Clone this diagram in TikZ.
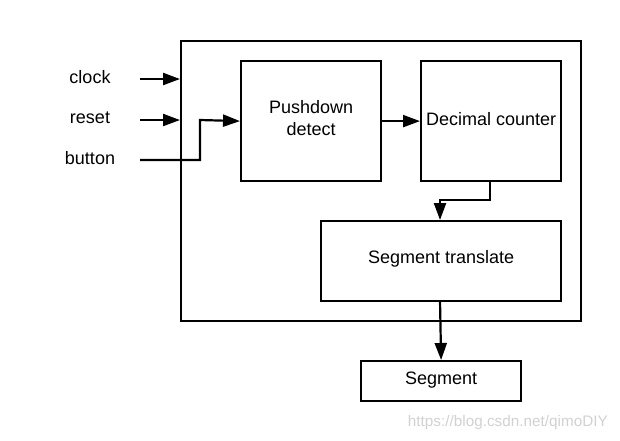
\documentclass[tikz,border=0pt]{standalone}
\usepackage{fontspec}
\setmainfont{Liberation Sans}
\usetikzlibrary{arrows.meta}
\begin{document}
\begin{tikzpicture}[x=1pt,y=-1pt,
  blk/.style={draw,line width=2.2pt,inner sep=0pt,anchor=north west},
  lbl/.style={font=\fontsize{18}{22}\selectfont,inner sep=0pt,align=center},
  tip/.style={-{Triangle[length=17pt,width=12pt]}},
  conn/.style={line width=2.2pt,tip},
  wire/.style={line width=2.2pt}]
\useasboundingbox (0,0) rectangle (620,440);
\node[blk,minimum width=400pt,minimum height=280pt] (outer) at (180,40) {};
\node[blk,minimum width=140pt,minimum height=120pt,
  label={[lbl,yshift=3pt]center:Pushdown\\detect}] (push) at (240,60) {};
\node[blk,minimum width=140pt,minimum height=120pt,
  label={[lbl,yshift=2.5pt]center:Decimal counter}] (dec) at (420,60) {};
\node[blk,minimum width=240pt,minimum height=80pt,
  label={[lbl,yshift=2pt]center:Segment translate}] (seg) at (320,220) {};
\node[blk,minimum width=160pt,minimum height=40pt,
  label={[lbl,yshift=1.5pt]center:Segment}] (out) at (360,360) {};
\node[lbl] (clk) at (90,77) {clock};
\node[lbl] (rst) at (90,118) {reset};
\node[lbl] (btn) at (90,158) {button};
\coordinate (clkS) at (140,79);
\coordinate (rstS) at (140,120);
\coordinate (btnS) at (140,160);
\draw[conn] (clkS) -- (clkS -| outer.west);
\draw[conn] (rstS) -- (rstS -| outer.west);
\draw[conn] (btnS) -- (200,160) -- (200,120) -- (push.west);
\draw[conn] (push.east) -- (dec.west |- push.east);
\draw[conn] (490,180) -- (490,200) -- (440,200) -- (440,220);
\draw[conn] (440,300) -- (out.north);
\node[font=\fontsize{15.3}{19}\selectfont,text=black!18,inner sep=0pt,anchor=east] (wm) at (608,423) {https://blog.csdn.net/qimoDIY};
\end{tikzpicture}
\end{document}
